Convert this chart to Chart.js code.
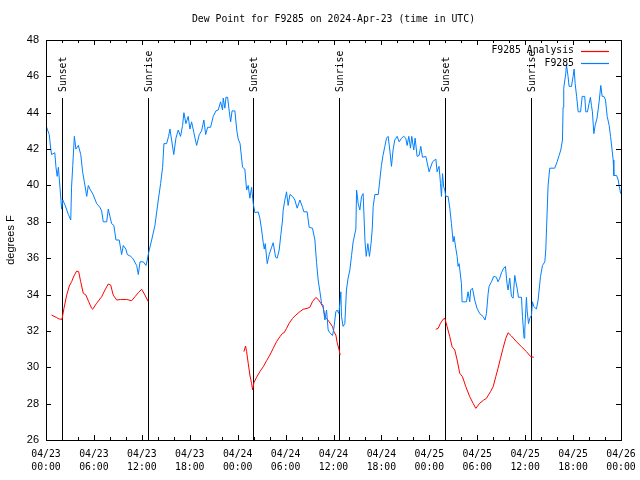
<!DOCTYPE html>
<html><head><meta charset="utf-8">
<script src="https://cdn.jsdelivr.net/npm/chart.js@4.4.1/dist/chart.umd.min.js"></script>
<style>html,body{margin:0;padding:0;background:#fff}</style>
</head><body>
<canvas id="c" width="640" height="480"></canvas>
<script>
// ---- data (hours since 2024-04-23 00:00 UTC) ----
const titleText = 'Dew Point for F9285 on 2024-Apr-23 (time in UTC)';
const xTickHours = [0, 6, 12, 18, 24, 30, 36, 42, 48, 54, 60, 66, 72];
const xTickLabels = [
  ['04/23','00:00'],['04/23','06:00'],['04/23','12:00'],['04/23','18:00'],
  ['04/24','00:00'],['04/24','06:00'],['04/24','12:00'],['04/24','18:00'],
  ['04/25','00:00'],['04/25','06:00'],['04/25','12:00'],['04/25','18:00'],
  ['04/26','00:00']
];
const eventHours = [2.04, 12.8, 25.95, 36.8, 49.98, 60.74];
const eventLabels = ['Sunset','Sunrise','Sunset','Sunrise','Sunset','Sunrise'];

const obsHours = [0.0,0.4,0.6,0.7,1.1,1.25,1.4,1.55,1.75,1.96,2.1,2.4,2.8,3.1,3.2,3.35,3.55,3.75,4.05,4.35,4.6,4.8,5.1,5.3,5.5,5.9,6.35,6.75,6.97,7.17,7.6,7.8,8.0,8.22,8.5,8.76,9.17,9.47,9.68,10.0,10.18,10.6,10.85,11.35,11.56,11.77,12.18,12.52,12.68,12.85,13.23,13.64,14.06,14.35,14.6,14.77,15.1,15.35,15.52,15.73,16.0,16.27,16.56,16.85,17.1,17.27,17.52,17.81,18.02,18.23,18.52,18.86,19.19,19.48,19.77,19.99,20.24,20.61,20.94,21.28,21.57,21.86,22.11,22.19,22.4,22.53,22.74,22.95,23.12,23.3,23.65,23.9,24.07,24.3,24.61,24.9,25.12,25.32,25.53,25.74,25.95,26.16,26.57,26.78,27.0,27.2,27.33,27.45,27.7,27.95,28.25,28.45,28.75,28.95,29.2,29.41,29.62,29.7,29.91,30.12,30.32,30.54,30.87,31.16,31.45,31.79,32.12,32.29,32.7,32.95,33.37,33.67,33.88,34.08,34.3,34.51,34.7,34.92,35.13,35.33,35.54,35.88,36.05,36.29,36.46,36.67,36.8,36.92,37.0,37.2,37.42,37.62,37.83,38.05,38.26,38.46,38.8,38.89,39.09,39.3,39.51,39.71,39.84,39.95,40.1,40.3,40.5,40.7,40.85,40.97,41.18,41.6,41.8,42.0,42.2,42.43,42.64,42.84,43.05,43.26,43.46,43.67,43.97,44.22,44.52,44.8,45.05,45.22,45.43,45.64,45.8,46.05,46.22,46.47,46.72,46.93,47.14,47.56,47.97,48.4,48.82,48.97,49.22,49.4,49.52,49.65,49.81,49.94,50.06,50.35,50.56,50.77,50.98,51.1,51.31,51.48,51.6,51.73,52.02,52.1,52.65,52.85,53.06,53.18,53.4,53.68,53.97,54.31,54.72,54.98,55.15,55.36,55.48,55.78,56.07,56.4,56.6,56.82,57.03,57.32,57.53,57.73,57.86,58.07,58.28,58.49,58.7,58.83,58.99,59.16,59.54,59.66,59.86,59.95,60.16,60.24,60.42,60.58,60.79,60.91,61.08,61.41,61.62,61.75,61.92,62.17,62.46,62.58,62.67,62.87,63.08,63.7,64.0,64.25,64.46,64.67,64.75,64.83,65.08,65.17,65.37,65.5,65.8,66.0,66.13,66.26,66.44,66.64,66.94,67.14,67.46,67.59,67.8,68.0,68.17,68.3,68.42,68.6,68.76,69.0,69.26,69.47,69.64,69.85,70.06,70.27,70.52,70.69,70.86,71.02,71.1,71.45,71.65,71.78,71.96];
const obsValues = [43.3,42.8,42.0,41.7,41.8,41.0,40.5,41.0,39.9,38.7,39.2,38.9,38.4,38.1,39.9,41.1,42.7,42.0,42.2,41.7,40.7,40.2,39.4,40.0,39.8,39.5,39.0,38.8,38.6,38.0,38.0,38.7,38.3,37.9,37.8,37.0,37.0,36.2,36.7,36.5,36.2,36.1,36.0,35.6,35.1,35.8,35.8,35.6,35.9,36.3,37.0,37.8,39.2,40.1,41.0,42.3,42.3,42.7,43.1,42.5,41.7,42.6,43.05,42.7,43.3,44.0,43.4,43.8,43.1,43.5,42.9,42.2,42.8,43.0,43.6,42.8,43.2,43.2,43.8,44.1,44.15,44.6,44.15,44.8,44.25,44.85,44.85,44.05,43.5,44.1,44.1,43.0,42.55,42.3,41.0,40.9,39.75,40.0,39.3,39.9,39.0,38.5,38.55,38.2,37.55,36.85,36.5,36.8,35.7,36.2,36.6,36.85,36.05,36.0,36.45,37.3,38.1,38.65,39.2,39.65,38.9,39.5,39.4,39.2,38.75,39.2,38.8,38.55,38.55,37.7,37.65,37.0,35.75,34.8,34.15,33.5,33.4,32.6,33.15,32.05,31.9,31.75,32.15,33.05,33.15,32.95,33.5,34.15,32.8,32.25,32.4,34.25,34.9,35.35,36.15,36.9,37.6,39.75,39.0,38.65,39.4,39.55,38.1,36.9,36.1,36.8,36.1,36.8,37.6,38.85,39.5,39.5,40.3,41.1,41.65,42.15,42.6,42.7,41.95,41.05,41.95,42.5,42.7,42.4,42.6,42.7,42.6,42.2,42.7,42.05,42.7,41.95,42.6,41.6,41.65,42.15,41.55,41.6,40.75,41.3,41.45,40.75,41.05,40.1,39.4,40.65,39.9,39.75,39.4,39.4,38.75,37.9,36.9,37.2,36.55,36.1,35.55,35.7,34.6,33.6,33.6,34.15,33.6,34.25,34.35,33.7,33.25,32.95,32.8,32.6,32.95,34.05,34.45,34.7,35.0,34.95,34.7,34.9,35.2,35.45,35.55,34.6,34.25,34.9,33.9,33.8,35.05,34.7,34.35,33.85,33.85,32.8,31.6,32.05,33.85,33.15,32.4,32.7,32.85,33.6,33.35,33.2,33.7,34.25,35.0,35.6,35.8,36.45,37.55,40.0,40.95,40.95,41.3,41.65,41.95,42.5,44.3,45.35,46.15,46.65,46.0,45.45,45.45,46.0,46.4,45.6,44.9,44.05,44.05,44.9,44.9,44.05,44.05,44.5,44.85,44.4,44.05,42.85,43.3,43.7,44.6,45.5,44.9,44.9,44.7,43.8,43.3,42.7,42.05,41.4,40.55,40.55,40.3,39.95,39.55];

const anaHours = [0.7,1.34,1.67,2.0,2.25,2.59,2.92,3.21,3.5,3.84,4.09,4.34,4.67,5.0,5.34,5.72,5.84,6.34,6.97,7.38,7.8,8.1,8.42,8.85,9.35,10.1,10.72,11.14,11.55,11.98,12.39,12.8,
  18.0,
  24.78,24.99,25.12,25.32,25.53,25.74,25.87,26.03,26.37,26.78,27.2,27.62,28.03,28.45,28.87,29.29,29.62,29.82,30.12,30.45,30.87,31.29,31.79,32.2,32.7,33.04,33.37,33.79,34.08,34.38,34.7,34.92,35.13,35.46,35.88,36.05,36.3,36.46,36.71,36.83,
  42.0,
  48.81,49.1,49.4,49.72,49.94,50.23,50.56,50.85,51.19,51.48,51.81,52.15,52.57,53.06,53.48,53.82,54.31,54.81,55.15,55.66,55.99,56.32,56.6,56.91,57.23,57.57,57.86,58.28,58.9,59.54,60.16,60.7,61.08];
const anaValues = [32.87,32.73,32.65,32.64,33.24,33.97,34.47,34.71,35.02,35.29,35.26,34.71,34.07,33.97,33.61,33.24,33.19,33.52,33.88,34.25,34.58,34.52,33.97,33.7,33.73,33.73,33.66,33.88,34.1,34.29,33.97,33.61,
  null,
  30.86,31.17,30.86,30.22,29.57,29.12,28.75,29.15,29.45,29.76,30.03,30.36,30.67,31.04,31.41,31.68,31.87,31.9,32.14,32.42,32.69,32.87,33.06,33.19,33.24,33.3,33.61,33.84,33.73,33.55,33.3,32.78,32.69,32.5,32.23,31.96,31.77,31.35,30.95,30.67,
  null,
  32.09,32.14,32.42,32.64,32.69,32.23,31.68,31.13,30.95,30.4,29.67,29.48,28.93,28.38,28.02,27.74,28.02,28.2,28.29,28.66,28.93,29.48,29.94,30.49,31.04,31.59,31.9,31.72,31.41,31.13,30.86,30.58,30.55];

// ---- styling ----
const MONO = '"DejaVu Sans Mono", monospace';
const SANS = '"Liberation Sans", Arial, sans-serif';
const OBS_COLOR = '#0080ff';
const ANA_COLOR = '#ff0000';
const LINE_TOP = 44.8;

const obsPts = obsHours.map((h, i) => ({x: h, y: obsValues[i]}));
const anaPts = anaHours.map((h, i) => ({x: h, y: anaValues[i]}));

const crisp = v => Math.round(v) + 0.5;

const decor = {
  id: 'decor',
  beforeDraw(chart) {
    const c = chart.ctx;
    c.save(); c.fillStyle = '#fff'; c.fillRect(0, 0, chart.width, chart.height); c.restore();
  },
  beforeDatasetsDraw(chart) {
    // sunset / sunrise vertical lines, placed through the scales
    const c = chart.ctx;
    const xs = chart.scales.x, ys = chart.scales.y;
    c.save();
    c.strokeStyle = '#000'; c.lineWidth = 1;
    c.beginPath();
    eventHours.forEach(h => {
      const x = crisp(xs.getPixelForValue(h) - 0.5);
      c.moveTo(x, Math.round(ys.getPixelForValue(LINE_TOP)));
      c.lineTo(x, ys.getPixelForValue(26));
    });
    c.stroke();
    c.restore();
  },
  afterDatasetsDraw(chart) {
    const c = chart.ctx, a = chart.chartArea;
    const xs = chart.scales.x, ys = chart.scales.y;
    c.save();
    c.strokeStyle = '#000'; c.lineWidth = 1;
    // frame
    c.strokeRect(crisp(a.left), crisp(a.top), Math.round(a.right) - Math.round(a.left), Math.round(a.bottom) - Math.round(a.top));
    c.beginPath();
    for (let h = 0; h <= 72; h += 2) {
      const x = crisp(xs.getPixelForValue(h));
      const len = (h % 6 === 0) ? 5 : 3;
      c.moveTo(x, a.bottom); c.lineTo(x, a.bottom - len);
      c.moveTo(x, a.top); c.lineTo(x, a.top + len);
    }
    for (let v = 26; v <= 48; v += 2) {
      const y = crisp(ys.getPixelForValue(v));
      c.moveTo(a.left, y); c.lineTo(a.left + 5, y);
      c.moveTo(a.right, y); c.lineTo(a.right - 5, y);
    }
    c.stroke();
    // event labels
    c.fillStyle = '#000';
    c.font = '9.8px ' + MONO;
    c.textAlign = 'left'; c.textBaseline = 'middle';
    eventHours.forEach((h, i) => {
      const x = xs.getPixelForValue(h);
      c.save();
      c.translate(x + 1, a.top + 52);
      c.rotate(-Math.PI / 2);
      c.fillText(eventLabels[i], 0, 0);
      c.restore();
    });
    // legend (top right, inside)
    const items = [chart.data.datasets[1], chart.data.datasets[0]];
    items.forEach((ds, i) => {
      const y = a.top + 10.5 + i * 12.7;
      c.fillStyle = '#000';
      c.textAlign = 'right';
      c.fillText(ds.label, a.right - 47, y);
      c.save();
      c.lineWidth = 1.2;
      c.strokeStyle = ds.borderColor;
      c.beginPath();
      c.moveTo(a.right - 40, Math.round(y) + 0.5);
      c.lineTo(a.right - 12, Math.round(y) + 0.5);
      c.stroke();
      c.restore();
    });
    c.restore();
  }
};

new Chart(document.getElementById('c'), {
  type: 'line',
  data: {
    datasets: [
      {label: 'F9285', data: obsPts, borderColor: OBS_COLOR, borderWidth: 1, pointRadius: 0, tension: 0, order: 0},
      {label: 'F9285 Analysis', data: anaPts, borderColor: ANA_COLOR, borderWidth: 1, pointRadius: 0, tension: 0, spanGaps: false, order: 1}
    ]
  },
  options: {
    responsive: false,
    animation: false,
    devicePixelRatio: 1,
    layout: {padding: {left: 0, right: 19, top: 0, bottom: 0}},
    plugins: {
      legend: {display: false},
      tooltip: {enabled: false},
      title: {
        display: true, text: titleText, fullSize: false, color: '#000',
        font: {family: MONO, size: 9.8, weight: 'normal', lineHeight: '12px'},
        padding: {top: 13, bottom: 15}
      }
    },
    scales: {
      x: {
        type: 'linear', min: 0, max: 72,
        afterBuildTicks: s => { s.ticks = xTickHours.map(v => ({value: v})); },
        afterFit: s => { s.height = 40; s.paddingLeft = 0; s.paddingRight = 0; },
        grid: {display: false, drawTicks: false},
        border: {display: false},
        ticks: {
          autoSkip: false, maxRotation: 0, padding: 8, color: '#000',
          font: {family: MONO, size: 9.8, lineHeight: '13px'},
          callback: (v, i) => xTickLabels[i]
        }
      },
      y: {
        min: 26, max: 48,
        afterFit: s => { s.width = 46; s.paddingTop = 0; s.paddingBottom = 0; },
        grid: {display: false, drawTicks: false},
        border: {display: false},
        ticks: {stepSize: 2, padding: 7, color: '#000', font: {family: SANS, size: 11}},
        title: {display: true, text: 'degrees F', color: '#000', font: {family: SANS, size: 11, lineHeight: 1.2}, padding: {top: 4, bottom: 0}}
      }
    }
  },
  plugins: [decor]
});
</script></body></html>
